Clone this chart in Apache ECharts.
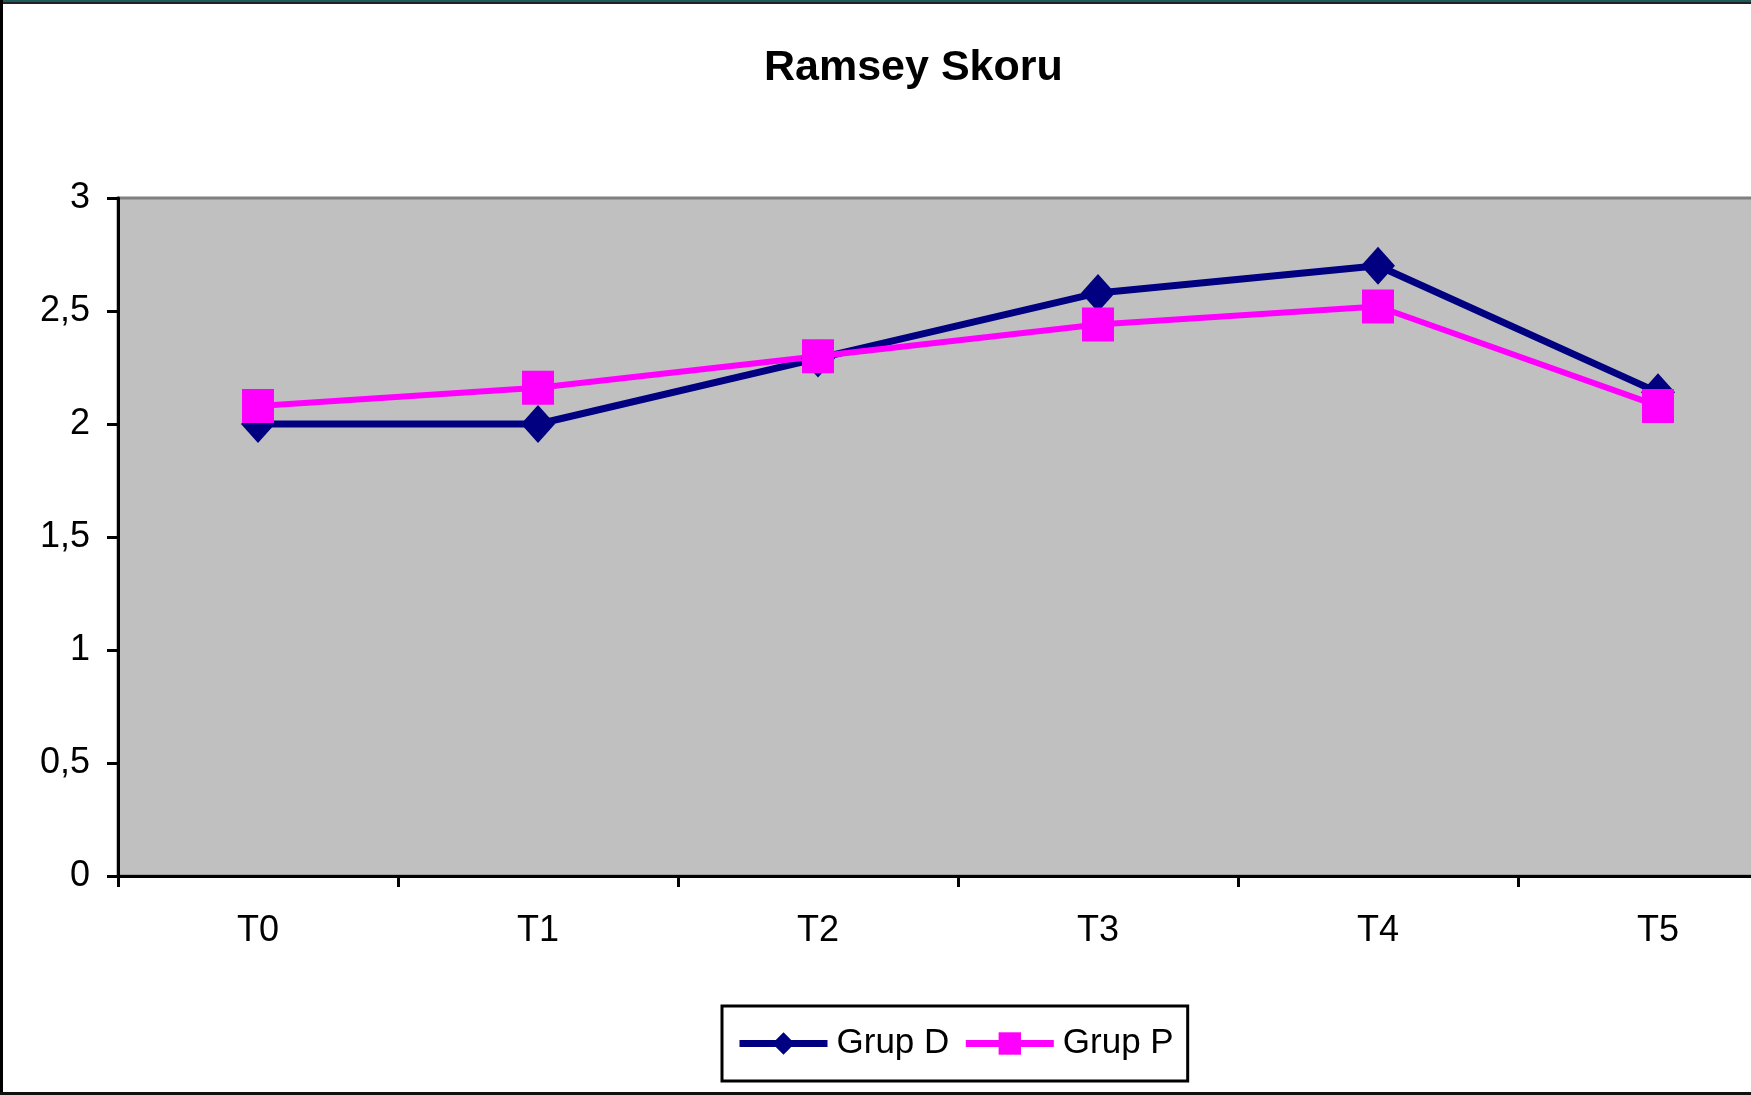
<!DOCTYPE html>
<html>
<head>
<meta charset="utf-8">
<script src="https://cdn.jsdelivr.net/npm/echarts@6/dist/echarts.min.js"></script>
<style>
  html, body { margin: 0; padding: 0; background: #ffffff; overflow: hidden; width: 1751px; height: 1095px; }
  #chart { width: 1800px; height: 1095px; }
</style>
</head>
<body>
<div id="chart"></div>
<script>
const titleText = 'Ramsey Skoru';
const categories = ['T0', 'T1', 'T2', 'T3', 'T4', 'T5'];
const grupD = [2.0, 2.0, 2.29, 2.58, 2.70, 2.14];
const grupP = [2.08, 2.16, 2.30, 2.44, 2.52, 2.08];
const seriesNames = ['Grup D', 'Grup P'];
const yTicks = [0, 0.5, 1, 1.5, 2, 2.5, 3];

const chart = echarts.init(document.getElementById('chart'), null, { renderer: 'canvas' });
const font = '"Liberation Sans", Arial, sans-serif';

chart.setOption({
  backgroundColor: '#ffffff',
  animation: false,
  title: {
    text: titleText,
    left: 764,
    top: 47,
    padding: 0,
    textStyle: { fontFamily: font, fontSize: 43, fontWeight: 'bold', color: '#000000' }
  },
  grid: {
    left: 118,
    right: 2,
    top: 198,
    bottom: 219,
    show: true,
    backgroundColor: '#C0C0C0',
    borderColor: '#808080',
    borderWidth: 3,
    containLabel: false
  },
  legend: {
    left: 722,
    top: 1006,
    orient: 'horizontal',
    padding: [20, 14, 20, 14],
    borderColor: '#000000',
    borderWidth: 3,
    itemWidth: 88,
    itemHeight: 28,
    itemGap: 13,
    lineStyle: { width: 7 },
    textStyle: { fontFamily: font, fontSize: 35, color: '#000000', padding: [0, 0, 0, 4] },
    data: seriesNames
  },
  xAxis: {
    type: 'category',
    data: categories,
    boundaryGap: true,
    axisLine: { show: true, lineStyle: { color: '#000000', width: 3 } },
    axisTick: { show: true, length: 11, lineStyle: { color: '#000000', width: 3 }, alignWithLabel: false },
    axisLabel: { fontFamily: font, fontSize: 36, color: '#000000', margin: 37 },
    splitLine: { show: false }
  },
  yAxis: {
    type: 'value',
    min: yTicks[0],
    max: yTicks[yTicks.length - 1],
    interval: yTicks[1] - yTicks[0],
    axisLine: { show: true, lineStyle: { color: '#000000', width: 3 } },
    axisTick: { show: true, length: 11, lineStyle: { color: '#000000', width: 3 } },
    axisLabel: {
      fontFamily: font, fontSize: 36, color: '#000000', margin: 28,
      formatter: function (v) { return String(v).replace('.', ','); }
    },
    splitLine: { show: false }
  },
  series: [
    {
      name: seriesNames[0],
      type: 'line',
      data: grupD,
      color: '#000080',
      symbol: 'diamond',
      symbolSize: [34, 38],
      lineStyle: { color: '#000080', width: 7 },
      itemStyle: { color: '#000080' }
    },
    {
      name: seriesNames[1],
      type: 'line',
      data: grupP,
      color: '#FF00FF',
      symbol: 'rect',
      symbolSize: [32, 34],
      lineStyle: { color: '#FF00FF', width: 6 },
      itemStyle: { color: '#FF00FF' }
    }
  ],
  graphic: [
    { type: 'rect', shape: { x: 0, y: 0, width: 1800, height: 2 }, style: { fill: '#1d5a5a' }, z: 100 },
    { type: 'rect', shape: { x: 0, y: 2, width: 1800, height: 2 }, style: { fill: '#222222' }, z: 100 },
    { type: 'rect', shape: { x: 0, y: 0, width: 3, height: 1095 }, style: { fill: '#000000' }, z: 100 },
    { type: 'rect', shape: { x: 0, y: 1092, width: 1800, height: 3 }, style: { fill: '#111111' }, z: 100 }
  ]
});
</script>
</body>
</html>
